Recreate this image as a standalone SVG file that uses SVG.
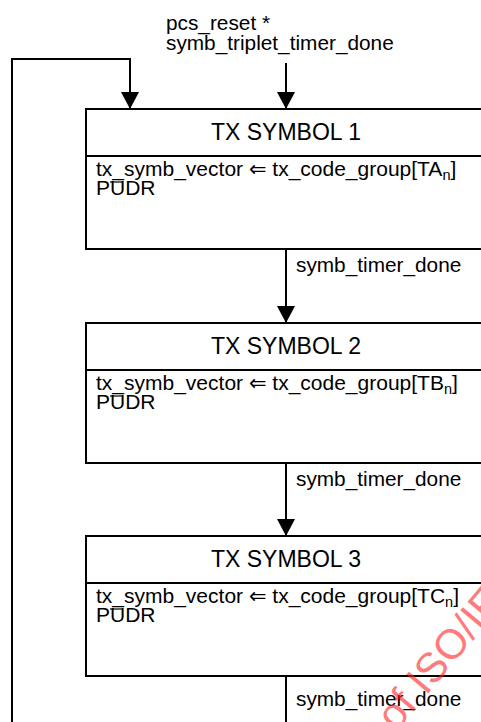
<svg xmlns="http://www.w3.org/2000/svg" width="481" height="722" viewBox="0 0 481 722">
  <style>
    .box { fill: #ffffff; stroke: #000000; stroke-width: 2; }
    .sep { stroke: #000000; stroke-width: 2; }
    .wire { fill: none; stroke: #000000; stroke-width: 2; }
    .title { font-family: "Liberation Sans", Arial, sans-serif; font-size: 23px; fill: #000000; text-anchor: middle; }
    .txt { font-family: "Liberation Sans", Arial, "DejaVu Sans", sans-serif; font-size: 20.8px; fill: #000000; }
    .body { font-size: 21px; }
    .sub { font-size: 14.5px; }
    .bar { stroke: #000000; stroke-width: 1.2; }
    .wm { font-family: "Liberation Sans", Arial, sans-serif; font-size: 42px; fill: #ff2020; fill-opacity: 0.6; }
  </style>
  <defs>
    <marker id="arrow" markerUnits="userSpaceOnUse" markerWidth="18" markerHeight="18" refX="17" refY="9" orient="auto">
      <path d="M0,0 L17,9 L0,18 Z" fill="#000000"/>
    </marker>
  </defs>

  <g id="connectors">
    <path class="wire" d="M12,722 L12,59 L130,59 L130,109" marker-end="url(#arrow)"/>
    <path class="wire" d="M286,63 L286,109" marker-end="url(#arrow)"/>
    <path class="wire" d="M286,249 L286,323" marker-end="url(#arrow)"/>
    <path class="wire" d="M286,463 L286,536" marker-end="url(#arrow)"/>
    <path class="wire" d="M286,676 L286,722"/>
    <text class="txt" x="166" y="30">pcs_reset *</text>
    <text class="txt" x="166" y="50">symb_triplet_timer_done</text>
    <text class="txt" x="296" y="272">symb_timer_done</text>
    <text class="txt" x="296" y="486">symb_timer_done</text>
    <text class="txt" x="296" y="706">symb_timer_done</text>
  </g>

  <g id="tx_symbol_1">
    <rect class="box" x="86" y="109" width="400" height="140"/>
    <line class="sep" x1="86" y1="156" x2="486" y2="156"/>
    <text class="title" x="286" y="140">TX SYMBOL 1</text>
    <text class="txt body" x="96" y="176">tx_symb_vector ⇐ tx_code_group[TA<tspan class="sub" dy="4">n</tspan><tspan dy="-4">]</tspan></text>
    <text class="txt body" x="96" y="195">PUDR</text>
    <line class="bar" x1="110" y1="182" x2="123" y2="182"/>
  </g>

  <g id="tx_symbol_2">
    <rect class="box" x="86" y="323" width="400" height="140"/>
    <line class="sep" x1="86" y1="370" x2="486" y2="370"/>
    <text class="title" x="286" y="354">TX SYMBOL 2</text>
    <text class="txt body" x="96" y="390">tx_symb_vector ⇐ tx_code_group[TB<tspan class="sub" dy="4">n</tspan><tspan dy="-4">]</tspan></text>
    <text class="txt body" x="96" y="409">PUDR</text>
    <line class="bar" x1="110" y1="396" x2="123" y2="396"/>
  </g>

  <g id="tx_symbol_3">
    <rect class="box" x="86" y="536" width="400" height="140"/>
    <line class="sep" x1="86" y1="583" x2="486" y2="583"/>
    <text class="title" x="286" y="567">TX SYMBOL 3</text>
    <text class="txt body" x="96" y="603">tx_symb_vector ⇐ tx_code_group[TC<tspan class="sub" dy="4">n</tspan><tspan dy="-4">]</tspan></text>
    <text class="txt body" x="96" y="622">PUDR</text>
    <line class="bar" x1="110" y1="609" x2="123" y2="609"/>
  </g>

  <text class="wm" transform="translate(396,732) rotate(-50)">of ISO/IEC</text>
</svg>
